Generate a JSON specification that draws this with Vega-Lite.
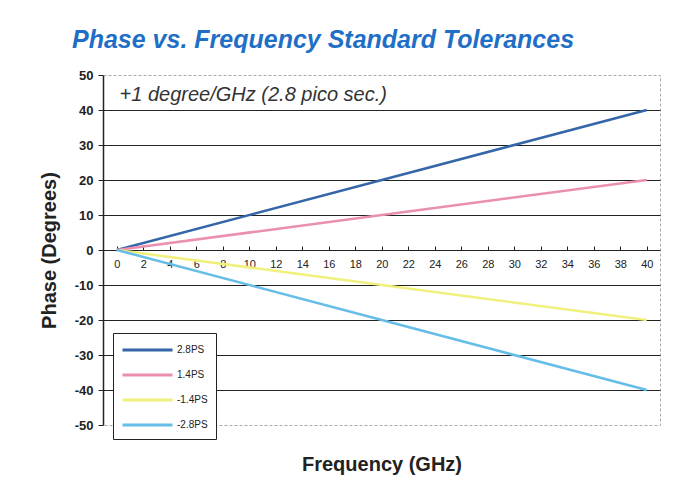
{
  "$schema": "https://vega.github.io/schema/vega-lite/v6.json",
  "width": 557,
  "height": 350,
  "autosize": {"type": "none"},
  "padding": {"left": 103, "top": 75, "right": 23, "bottom": 66},
  "background": "white",
  "title": {
    "text": "Phase vs. Frequency Standard Tolerances",
    "anchor": "start",
    "frame": "group",
    "dx": -31,
    "offset": 16,
    "font": "Liberation Sans",
    "fontSize": 25,
    "fontWeight": "bold",
    "fontStyle": "italic",
    "color": "#1f6fc6"
  },
  "config": {
    "view": {"stroke": "#aaaaaa", "strokeDash": [3, 2], "strokeWidth": 1},
    "font": "Liberation Sans"
  },
  "data": {
    "values": [
      {"f": 0, "phase": 0, "series": "2.8PS"},
      {"f": 20, "phase": 20, "series": "2.8PS"},
      {"f": 40, "phase": 40, "series": "2.8PS"},
      {"f": 0, "phase": 0, "series": "1.4PS"},
      {"f": 20, "phase": 10, "series": "1.4PS"},
      {"f": 40, "phase": 20, "series": "1.4PS"},
      {"f": 0, "phase": 0, "series": "-1.4PS"},
      {"f": 20, "phase": -10, "series": "-1.4PS"},
      {"f": 40, "phase": -20, "series": "-1.4PS"},
      {"f": 0, "phase": 0, "series": "-2.8PS"},
      {"f": 20, "phase": -20, "series": "-2.8PS"},
      {"f": 40, "phase": -40, "series": "-2.8PS"}
    ]
  },
  "layer": [
    {
      "mark": {"type": "line", "strokeWidth": 2.5},
      "encoding": {
        "x": {
          "field": "f",
          "type": "quantitative",
          "scale": {"domain": [-1.05, 41], "nice": false, "zero": false},
          "axis": {
            "values": [0, 2, 4, 6, 8, 10, 12, 14, 16, 18, 20, 22, 24, 26, 28, 30, 32, 34, 36, 38, 40],
            "tickCount": 100,
            "labelOverlap": false,
            "labelExpr": "'' + datum.value",
            "offset": -175,
            "domain": false,
            "grid": false,
            "tickSize": -4,
            "tickColor": "#222222",
            "labelPadding": 12,
            "labelFont": "Liberation Sans",
            "labelFontSize": 11,
            "labelColor": "#222222",
            "title": "Frequency (GHz)",
            "titleFont": "Liberation Sans",
            "titleFontSize": 20,
            "titleFontWeight": "bold",
            "titleColor": "#222222",
            "titleY": 220,
            "titleBaseline": "alphabetic"
          }
        },
        "y": {
          "field": "phase",
          "type": "quantitative",
          "scale": {"domain": [-50, 50], "nice": false},
          "axis": {
            "values": [-50, -40, -30, -20, -10, 0, 10, 20, 30, 40, 50],
            "tickCount": 100,
            "labelOverlap": false,
            "labelExpr": "'' + datum.value",
            "grid": true,
            "gridColor": "#222222",
            "gridWidth": 1.1,
            "gridOpacity": {"condition": {"test": "abs(datum.value) == 50", "value": 0}, "value": 1},
            "domainColor": "#222222",
            "domainWidth": 1.5,
            "tickColor": "#222222",
            "tickSize": 5,
            "labelPadding": 5,
            "labelFont": "Liberation Sans",
            "labelFontSize": 13,
            "labelFontWeight": "bold",
            "labelColor": "#222222",
            "title": "Phase (Degrees)",
            "titleFont": "Liberation Sans",
            "titleFontSize": 20,
            "titleFontWeight": "bold",
            "titleColor": "#222222",
            "titlePadding": 15
          }
        },
        "color": {
          "field": "series",
          "type": "nominal",
          "sort": ["2.8PS", "1.4PS", "-1.4PS", "-2.8PS"],
          "scale": {
            "domain": ["2.8PS", "1.4PS", "-1.4PS", "-2.8PS"],
            "range": ["#3566a8", "#ea8fb2", "#f0f07c", "#66bde8"]
          },
          "legend": {
            "orient": "none",
            "legendX": 10,
            "legendY": 258,
            "title": null,
            "symbolType": "M-1,0H5.67",
            "symbolSize": 225,
            "symbolStrokeWidth": 3,
            "labelFont": "Liberation Sans",
            "labelFontSize": 10,
            "labelColor": "#222222",
            "rowPadding": 10,
            "padding": 8,
            "strokeColor": "#222222",
            "fillColor": "white",
            "labelOffset": 38
          }
        }
      }
    },
    {
      "data": {"values": [{"note": "+1 degree/GHz (2.8 pico sec.)"}]},
      "mark": {
        "type": "text",
        "align": "left",
        "baseline": "middle",
        "font": "Liberation Sans",
        "fontSize": 20,
        "fontStyle": "italic",
        "fontWeight": "normal",
        "color": "#333333"
      },
      "encoding": {
        "x": {"datum": 0.2},
        "y": {"datum": 44.2},
        "text": {"field": "note", "type": "nominal"}
      }
    }
  ]
}
